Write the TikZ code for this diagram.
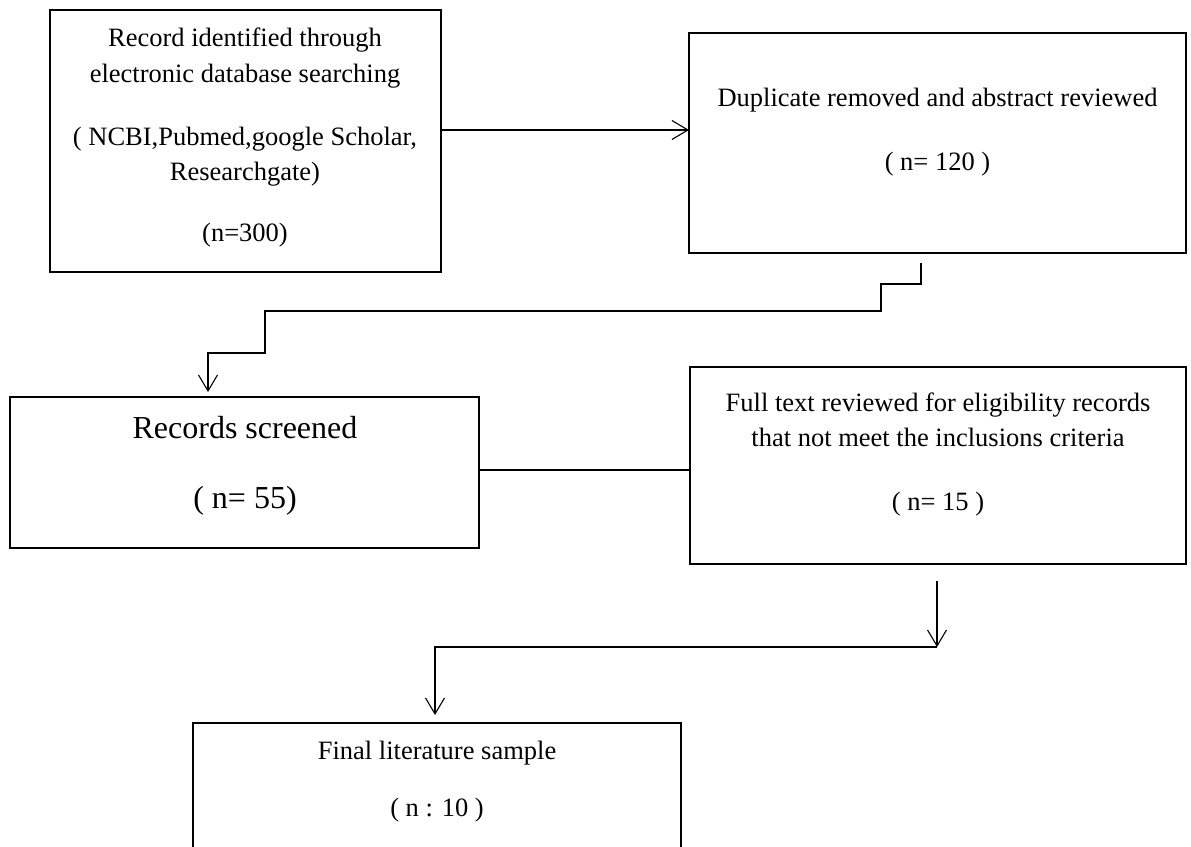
\documentclass[tikz,border=0pt]{standalone}
\usepackage{fontspec}
\setmainfont{Liberation Serif}
\usetikzlibrary{arrows.meta}

\begin{document}
\begin{tikzpicture}[x=1pt,y=-1pt,
  box/.style={draw=black, line width=2.8pt, inner sep=0pt, outer sep=0pt},
  txt/.style={align=center, inner sep=0pt, font=\fontsize{26.5}{35.5}\selectfont},
  conn/.style={line width=1.1pt},
  arr/.style={conn, -{Straight Barb[length=16pt,width=19pt]}}]
\useasboundingbox (0,0) rectangle (1191,846);
\clip (0,0) rectangle (1191,846);

\node[box, minimum width=391pt, minimum height=262pt] (search) at (245.5,141) {};
\node[txt] (search-t) at (245,137.5) {Record identified through\\electronic database searching\\[27.5pt]( NCBI,Pubmed,google Scholar,\\Researchgate)\\[25.5pt](n=300)};

\node[box, minimum width=497pt, minimum height=220pt] (dedup) at (937.5,143) {};
\node[txt] (dedup-t) at (937.5,132) {Duplicate removed and abstract reviewed\\[28.5pt]( n= 120 )};

\node[box, minimum width=469pt, minimum height=151pt] (screen) at (244.5,472.5) {};
\node[txt, font=\fontsize{32}{38}\selectfont] (screen-t) at (245,465.5) {Records screened\\[32pt]( n= 55)};

\node[box, minimum width=496pt, minimum height=197pt] (fulltext) at (938,465.5) {};
\node[txt] (fulltext-t) at (938,454.5) {Full text reviewed for eligibility records\\that not meet the inclusions criteria\\[28.5pt]( n= 15 )};

\node[box, minimum width=488pt, minimum height=177pt] (final) at (437,811.5) {};
\node[txt] (final-t) at (437,781.5) {Final literature sample\\[21.5pt]( n : 10 )};

\coordinate (in2) at ([yshift=13pt]dedup.west);
\draw[arr] ([yshift=11pt]search.east) -- (in2);

\draw[arr] ([xshift=-16.5pt,yshift=-10pt]dedup.south) -- (921,284) -- (881,284) -- (881,311) -- (265,311) -- (265,353) -- (208,353) -- ([xshift=-36.5pt,yshift=5pt]screen.north);

\draw[conn] ([yshift=2.5pt]screen.east) -- ([yshift=-4.5pt]fulltext.west);

\coordinate (f1) at (937,647);
\draw[arr] ([xshift=-1pt,yshift=-17pt]fulltext.south) -- (f1);
\draw[arr] (f1) -| ([xshift=-2pt,yshift=8pt]final.north);
\end{tikzpicture}
\end{document}
